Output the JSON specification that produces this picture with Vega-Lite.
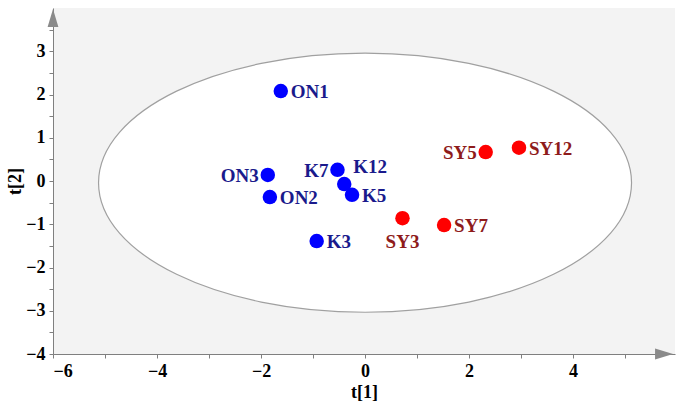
{
  "$schema": "https://vega.github.io/schema/vega-lite/v6.json",
  "width": 622,
  "height": 346,
  "autosize": "none",
  "padding": {"left": 53, "top": 8, "right": 10, "bottom": 53},
  "background": "white",
  "config": {
    "view": {"fill": "#f3f3f3", "stroke": null},
    "font": "Liberation Serif"
  },
  "datasets": {
    "scores": [
      {"name": "ON1", "group": "ON/K", "t1": -1.62, "t2": 2.08},
      {"name": "ON3", "group": "ON/K", "t1": -1.87, "t2": 0.14},
      {"name": "ON2", "group": "ON/K", "t1": -1.83, "t2": -0.37},
      {"name": "K7", "group": "ON/K", "t1": -0.53, "t2": 0.26},
      {"name": "K12", "group": "ON/K", "t1": -0.40, "t2": -0.07},
      {"name": "K5", "group": "ON/K", "t1": -0.25, "t2": -0.32},
      {"name": "K3", "group": "ON/K", "t1": -0.93, "t2": -1.39},
      {"name": "SY5", "group": "SY", "t1": 2.32, "t2": 0.67},
      {"name": "SY12", "group": "SY", "t1": 2.96, "t2": 0.77},
      {"name": "SY3", "group": "SY", "t1": 0.72, "t2": -0.86},
      {"name": "SY7", "group": "SY", "t1": 1.52, "t2": -1.02}
    ]
  },
  "encoding": {
    "x": {
      "field": "t1", "type": "quantitative",
      "scale": {"domain": [-6, 5.96], "nice": false, "zero": false},
      "axis": {
        "title": "t[1]",
        "values": [-6, -5, -4, -3, -2, -1, 0, 1, 2, 3, 4, 5],
        "format": "d",
        "labelExpr": "datum.value % 2 === 0 ? datum.label : ''",
        "grid": false,
        "domainColor": "#7f7f7f",
        "tickColor": "#7f7f7f",
        "tickSize": 4,
        "labelFont": "Liberation Serif",
        "labelFontWeight": "bold",
        "labelFontSize": 18,
        "labelColor": "black",
        "labelPadding": 4,
        "titleFont": "Liberation Serif",
        "titleFontWeight": "bold",
        "titleFontSize": 18,
        "titleColor": "black",
        "titlePadding": 3
      }
    },
    "y": {
      "field": "t2", "type": "quantitative",
      "scale": {"domain": [-4, 4], "nice": false, "zero": false},
      "axis": {
        "title": "t[2]",
        "values": [-4, -3.5, -3, -2.5, -2, -1.5, -1, -0.5, 0, 0.5, 1, 1.5, 2, 2.5, 3, 3.5],
        "labelExpr": "datum.value % 1 === 0 ? format(datum.value, 'd') : ''",
        "grid": false,
        "domainColor": "#7f7f7f",
        "tickColor": "#7f7f7f",
        "tickSize": 4,
        "labelFont": "Liberation Serif",
        "labelFontWeight": "bold",
        "labelFontSize": 18,
        "labelColor": "black",
        "labelPadding": 4,
        "titleFont": "Liberation Serif",
        "titleFontWeight": "bold",
        "titleFontSize": 18,
        "titleColor": "black",
        "titlePadding": 1
      }
    }
  },
  "resolve": {"scale": {"color": "independent"}},
  "layer": [
    {
      "data": {"values": [{"t1": 0, "t2": -0.04}]},
      "mark": {
        "type": "point",
        "shape": "M -1 0 A 1 0.486 0 1 0 1 0 A 1 0.486 0 1 0 -1 0 Z",
        "size": 284089,
        "filled": false,
        "fill": "white",
        "fillOpacity": 1,
        "stroke": "#a0a0a0",
        "strokeWidth": 1.2,
        "opacity": 1
      }
    },
    {
      "data": {"values": [{"v": 0}]},
      "mark": {"type": "rule", "color": "#8a8a8a", "strokeWidth": 1.2},
      "encoding": {"x": {"datum": 0}, "y": null}
    },
    {
      "data": {"values": [{"v": 0}]},
      "mark": {"type": "rule", "color": "#8a8a8a", "strokeWidth": 1.2},
      "encoding": {"y": {"datum": 0}, "x": null}
    },
    {
      "data": {"values": [{"t1": 5.75, "t2": -4}]},
      "mark": {"type": "point", "shape": "M -1 -0.6 L 1 0 L -1 0.6 Z", "size": 324, "filled": true, "color": "#8a8a8a", "opacity": 1}
    },
    {
      "data": {"values": [{"t1": -6, "t2": 3.77}]},
      "mark": {"type": "point", "shape": "M -0.6 1 L 0 -1 L 0.6 1 Z", "size": 324, "filled": true, "color": "#8a8a8a", "opacity": 1}
    },
    {
      "data": {"name": "scores"},
      "mark": {"type": "circle", "size": 210, "opacity": 1},
      "encoding": {
        "color": {
          "field": "group", "type": "nominal",
          "scale": {"domain": ["ON/K", "SY"], "range": ["#0000ff", "#ff0000"]},
          "legend": null
        }
      }
    },
    {
      "data": {"name": "scores"},
      "transform": [{"filter": {"field": "name", "oneOf": ["ON1", "ON2", "K5", "K3", "SY12", "SY7"]}}],
      "mark": {"type": "text", "align": "left", "baseline": "middle", "dx": 10, "dy": 1, "fontSize": 19, "fontWeight": "bold", "font": "Liberation Serif"},
      "encoding": {
        "text": {"field": "name"},
        "color": {"condition": {"test": "datum.group === 'SY'", "value": "#8e1b1b"}, "value": "#1a1a8c"}
      }
    },
    {
      "data": {"name": "scores"},
      "transform": [{"filter": {"field": "name", "oneOf": ["ON3", "K7", "SY5"]}}],
      "mark": {"type": "text", "align": "right", "baseline": "middle", "dx": -9, "dy": 1, "fontSize": 19, "fontWeight": "bold", "font": "Liberation Serif"},
      "encoding": {
        "text": {"field": "name"},
        "color": {"condition": {"test": "datum.group === 'SY'", "value": "#8e1b1b"}, "value": "#1a1a8c"}
      }
    },
    {
      "data": {"name": "scores"},
      "transform": [{"filter": {"field": "name", "oneOf": ["K12"]}}],
      "mark": {"type": "text", "align": "left", "baseline": "middle", "dx": 9, "dy": -17, "fontSize": 19, "fontWeight": "bold", "font": "Liberation Serif"},
      "encoding": {
        "text": {"field": "name"},
        "color": {"value": "#1a1a8c"}
      }
    },
    {
      "data": {"name": "scores"},
      "transform": [{"filter": {"field": "name", "oneOf": ["SY3"]}}],
      "mark": {"type": "text", "align": "center", "baseline": "middle", "dx": 0, "dy": 24, "fontSize": 19, "fontWeight": "bold", "font": "Liberation Serif"},
      "encoding": {
        "text": {"field": "name"},
        "color": {"value": "#8e1b1b"}
      }
    }
  ]
}
